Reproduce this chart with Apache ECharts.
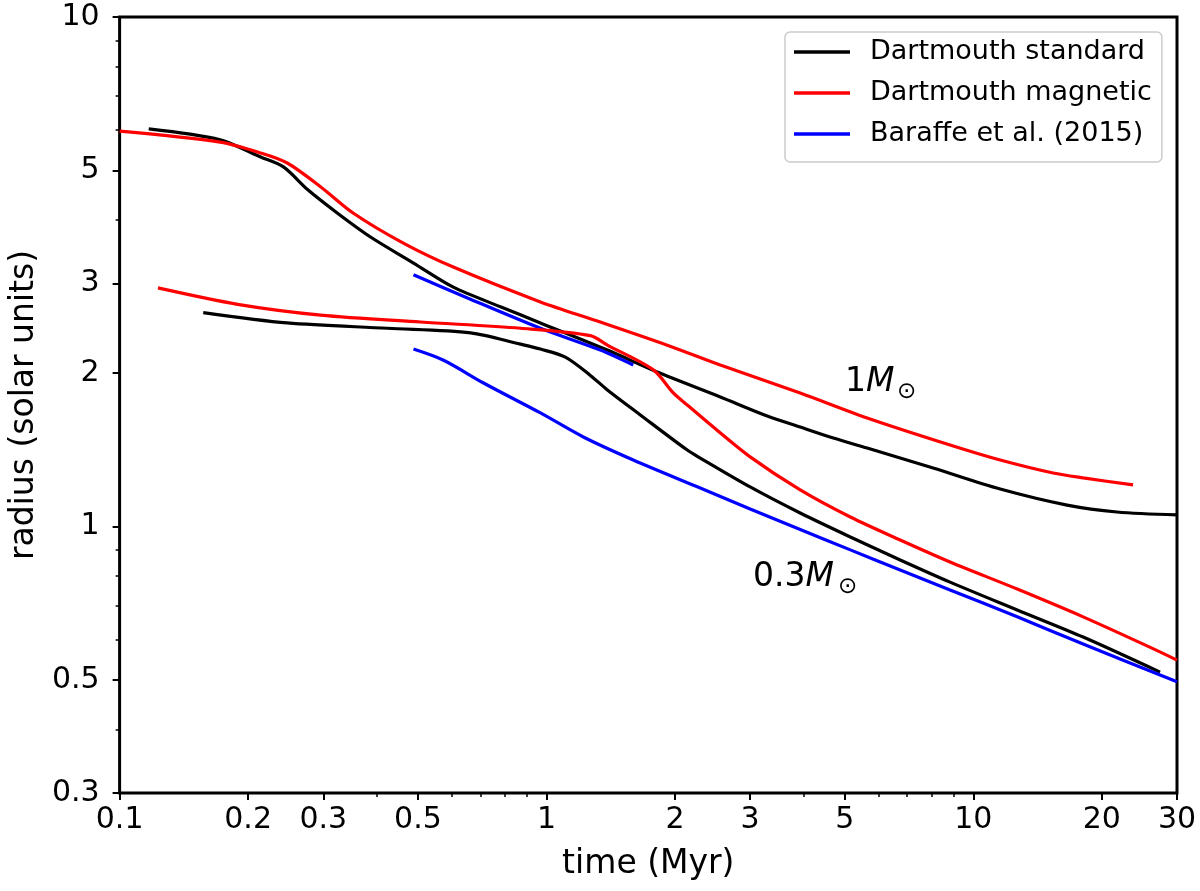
<!DOCTYPE html>
<html>
<head>
<meta charset="utf-8">
<script src="https://cdn.jsdelivr.net/npm/echarts@6/dist/echarts.min.js"></script>
<style>
html,body{margin:0;padding:0;background:#fff;}
#chart{width:1200px;height:891px;}
</style>
</head>
<body>
<div id="chart"></div>
<script>
// Tick values
const xMajorTicks = [0.1, 0.2, 0.3, 0.5, 1, 2, 3, 5, 10, 20, 30];
const xMinorTicks = [0.4, 0.6, 0.7, 0.8, 0.9, 4, 6, 7, 8, 9];
const yMajorTicks = [0.3, 0.5, 1, 2, 3, 5, 10];
const yMinorTicks = [0.4, 0.6, 0.7, 0.8, 0.9, 4, 6, 7, 8, 9];

// Series names
const seriesNames = ['Dartmouth standard', 'Dartmouth magnetic', 'Baraffe et al. (2015)'];

// [time (Myr), radius (solar units)]
const dartStd1M = [[0.117,6.03],[0.172,5.74],[0.214,5.31],[0.242,5.08],[0.276,4.58],[0.324,4.12],[0.387,3.70],[0.488,3.29],[0.605,2.95],[0.780,2.70],[0.968,2.51],[1.389,2.22],[1.818,2.01],[2.554,1.796],[3.29,1.648],[3.93,1.568],[4.70,1.492],[5.64,1.426],[8.05,1.303],[11.56,1.185],[16.58,1.102],[21.7,1.068],[30,1.054]];
const dartMag1M = [[0.1,5.97],[0.172,5.68],[0.214,5.41],[0.247,5.17],[0.296,4.64],[0.353,4.12],[0.462,3.60],[0.605,3.23],[0.968,2.76],[1.337,2.52],[1.919,2.27],[2.554,2.075],[3.93,1.829],[5.64,1.634],[8.82,1.446],[11.56,1.351],[15.38,1.274],[18.08,1.246],[23.67,1.207]];
const baraffe1M = [[0.488,3.12],[0.653,2.81],[0.968,2.45],[1.337,2.22],[1.597,2.075]];
const dartStd03 = [[0.157,2.63],[0.247,2.51],[0.424,2.45],[0.664,2.40],[0.869,2.28],[0.968,2.23],[1.107,2.15],[1.267,1.98],[1.389,1.854],[1.659,1.656],[2.137,1.413],[2.292,1.363],[3.00,1.196],[3.93,1.063],[5.15,0.954],[6.74,0.860],[8.82,0.778],[12.67,0.686],[18.08,0.607],[27.38,0.518]];
const dartMag03 = [[0.123,2.94],[0.189,2.73],[0.296,2.60],[0.507,2.52],[0.869,2.45],[1.267,2.37],[1.389,2.27],[1.780,2.03],[1.982,1.829],[2.137,1.732],[2.459,1.568],[3.00,1.370],[3.93,1.180],[5.15,1.044],[6.74,0.941],[8.82,0.852],[12.67,0.754],[18.08,0.665],[25.9,0.580],[30,0.547]];
const baraffe03 = [[0.488,2.23],[0.574,2.12],[0.712,1.913],[0.968,1.671],[1.220,1.499],[1.597,1.351],[2.292,1.190],[3.00,1.083],[3.93,0.987],[5.15,0.900],[6.74,0.822],[8.82,0.751],[12.67,0.665],[18.08,0.588],[30,0.496]];

const colors = ['#000000', '#ff0000', '#0000ff'];
const FONT = 'DejaVu Sans';

function fmt(v) { return String(Number(Number(v).toPrecision(6))); }

function mkLine(name, data, color) {
  return {
    type: 'line', name: name, data: data,
    xAxisIndex: 0, yAxisIndex: 0,
    showSymbol: false, symbol: 'none',
    smooth: 0.3,
    lineStyle: { color: color, width: 3.2 },
    itemStyle: { color: color },
    z: 3
  };
}

const chart = echarts.init(document.getElementById('chart'), null, { renderer: 'canvas' });

const option = {
  animation: false,
  backgroundColor: '#ffffff',
  grid: {
    left: 119, right: 23, top: 17, bottom: 98,
    show: true, borderColor: '#000', borderWidth: 3, backgroundColor: 'transparent'
  },
  legend: {
    data: seriesNames,
    orient: 'vertical',
    left: 785, top: 32,
    icon: 'rect',
    itemWidth: 56, itemHeight: 3.5,
    itemGap: 11,
    padding: [5, 10, 13, 9],
    borderColor: '#cccccc', borderWidth: 1.5, borderRadius: 5,
    backgroundColor: '#ffffff',
    textStyle: { fontFamily: FONT, fontSize: 27, color: '#000', lineHeight: 30, padding: [0, 0, 0, 15] }
  },
  xAxis: [
    {
      type: 'log', logBase: 10, min: 0.1, max: 30,
      name: 'time (Myr)', nameLocation: 'middle', nameGap: 55,
      nameTextStyle: { fontFamily: FONT, fontSize: 33, color: '#000' },
      axisLine: { show: false },
      splitLine: { show: false },
      axisTick: { show: true, inside: false, length: 7, customValues: xMajorTicks, lineStyle: { color: '#000', width: 2 } },
      axisLabel: { show: true, customValues: xMajorTicks, margin: 12, fontFamily: FONT, fontSize: 30, color: '#000', formatter: fmt, hideOverlap: false, showMinLabel: true, showMaxLabel: true }
    },
    {
      type: 'log', logBase: 10, min: 0.1, max: 30, position: 'bottom',
      axisLine: { show: false }, splitLine: { show: false },
      axisTick: { show: true, inside: false, length: 4, customValues: xMinorTicks, lineStyle: { color: '#000', width: 1.5 } },
      axisLabel: { show: false }
    }
  ],
  yAxis: [
    {
      type: 'log', logBase: 10, min: 0.3, max: 10,
      name: 'radius (solar units)', nameLocation: 'middle', nameGap: 75,
      nameTextStyle: { fontFamily: FONT, fontSize: 33, color: '#000' },
      axisLine: { show: false },
      splitLine: { show: false },
      axisTick: { show: true, inside: false, length: 7, customValues: yMajorTicks, lineStyle: { color: '#000', width: 2 } },
      axisLabel: { show: true, customValues: yMajorTicks, margin: 20, fontFamily: FONT, fontSize: 30, color: '#000', formatter: fmt, hideOverlap: false, showMinLabel: true, showMaxLabel: true }
    },
    {
      type: 'log', logBase: 10, min: 0.3, max: 10, position: 'left',
      axisLine: { show: false }, splitLine: { show: false },
      axisTick: { show: true, inside: false, length: 4, customValues: yMinorTicks, lineStyle: { color: '#000', width: 1.5 } },
      axisLabel: { show: false }
    }
  ],
  series: [
    mkLine(seriesNames[0], dartStd1M, colors[0]),
    mkLine(seriesNames[1], dartMag1M, colors[1]),
    mkLine(seriesNames[2], baraffe1M, colors[2]),
    mkLine(seriesNames[0], dartStd03, colors[0]),
    mkLine(seriesNames[1], dartMag03, colors[1]),
    mkLine(seriesNames[2], baraffe03, colors[2])
  ],
  graphic: [
    {
      type: 'text', x: 845, y: 382, z: 10,
      style: {
        text: '{n|1}{m|M}', verticalAlign: 'middle', align: 'left',
        rich: {
          n: { fontFamily: FONT, fontSize: 33, fill: '#000' },
          m: { fontFamily: FONT, fontSize: 33, fontStyle: 'italic', fill: '#000' }
        }
      }
    },
    { type: 'text', x: 897, y: 392, z: 10, style: { text: '\u2299', font: '23px "DejaVu Sans"', fill: '#000', verticalAlign: 'middle', align: 'left' } },
    {
      type: 'text', x: 753, y: 577, z: 10,
      style: {
        text: '{n|0.3}{m|M}', verticalAlign: 'middle', align: 'left',
        rich: {
          n: { fontFamily: FONT, fontSize: 33, fill: '#000' },
          m: { fontFamily: FONT, fontSize: 33, fontStyle: 'italic', fill: '#000' }
        }
      }
    },
    { type: 'text', x: 838, y: 587, z: 10, style: { text: '\u2299', font: '23px "DejaVu Sans"', fill: '#000', verticalAlign: 'middle', align: 'left' } }
  ]
};

chart.setOption(option);
</script>
</body>
</html>
